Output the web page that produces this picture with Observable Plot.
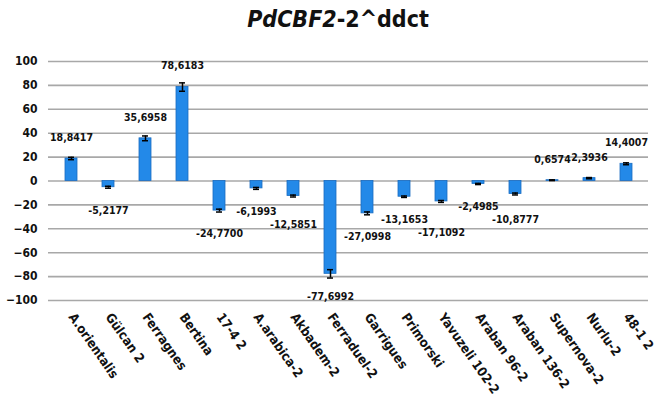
<!DOCTYPE html>
<html>
<head>
<meta charset="utf-8">
<script src="https://cdn.jsdelivr.net/npm/d3@7"></script>
<script src="https://cdn.jsdelivr.net/npm/@observablehq/plot@0.6"></script>
<style>
  body { margin: 0; background: #fff; font-family: "DejaVu Sans Condensed", "DejaVu Sans", sans-serif; }
  #title { height: 40px; line-height: 38px; text-align: center; font-size: 23px; font-weight: bold; color: #111; padding-left: 6px; }
  #chart svg { display: block; }
</style>
</head>
<body>
<div id="title"><i>PdCBF2</i>-2^ddct</div>
<div id="chart"></div>
<script>
const categories = ["A.orientalis", "Gülcan 2", "Ferragnes", "Bertina", "17-4 2", "A.arabica-2", "Akbadem-2", "Ferraduel-2", "Garrigues", "Primorski", "Yavuzeli 102-2", "Araban 96-2", "Araban 136-2", "Supernova-2", "Nurlu-2", "48-1 2"];
const values = [18.8417, -5.2177, 35.6958, 78.6183, -24.7700, -6.1993, -12.5851, -77.6992, -27.0998, -13.1653, -17.1092, -2.4985, -10.8777, 0.6574, 2.3936, 14.4007];
const errors = [1.0, 0.8, 2.0, 3.5, 1.2, 0.8, 0.8, 3.5, 1.2, 0.6, 0.8, 0.5, 0.8, 0.3, 0.5, 0.8];
const yTicks = [-100, -80, -60, -40, -20, 0, 20, 40, 60, 80, 100];

const W = 670, H = 372, MT = 21, MB = 112, ML = 48, MR = 22;
const yPx = d3.scaleLinear().domain([-100, 100]).range([H - MB, MT]);

const data = categories.map((c, i) => ({name: c, value: values[i], err: errors[i]}));
const fmt = v => v.toFixed(4).replace(".", ",");

// label placement: outside the bar end; negative labels pushed apart when neighbours collide
let prev = null;
data.forEach(d => {
  const end = yPx(d.value);
  let py = d.value >= 0 ? end - 21 : end + 23;
  if (d.value < 0 && prev && prev.value < 0 && Math.abs(py - prev.py) < 12) {
    py = Math.max(py, prev.py + 13);
  }
  d.py = py;
  d.labelY = yPx.invert(py);
  prev = d;
});

const font = "'DejaVu Sans Condensed', 'DejaVu Sans', sans-serif";

const chart = Plot.plot({
  width: W,
  height: H,
  marginTop: MT,
  marginBottom: MB,
  marginLeft: ML,
  marginRight: MR,
  style: {fontFamily: font, fontWeight: "bold", color: "#111"},
  x: {domain: categories, paddingInner: 0.68, paddingOuter: 0.34, label: null},
  y: {domain: [-100, 100], ticks: yTicks, label: null},
  marks: [
    Plot.ruleY(yTicks, {stroke: "#a8a8a8", strokeWidth: 1.6}),
    Plot.axisY({ticks: yTicks, tickSize: 0, tickPadding: 11, fontSize: 12, fontWeight: "bold", label: null}),
    Plot.axisX({tickSize: 0, tickRotate: 55, tickPadding: 14, fontSize: 13, fontWeight: "bold", label: null}),
    Plot.barY(data, {x: "name", y: "value", fill: "#2389e8", stroke: "#1a6cc0", strokeWidth: 0.8}),
    Plot.ruleX(data, {x: "name", y1: d => d.value - d.err, y2: d => d.value + d.err, stroke: "#000", strokeWidth: 1.5}),
    Plot.tickY(data, {x: "name", y: d => d.value - d.err, stroke: "#000", strokeWidth: 1.5, insetLeft: 3, insetRight: 3}),
    Plot.tickY(data, {x: "name", y: d => d.value + d.err, stroke: "#000", strokeWidth: 1.5, insetLeft: 3, insetRight: 3}),
    Plot.text(data, {x: "name", y: "labelY", text: d => fmt(d.value), fontSize: 10.5, fontWeight: "bold", fill: "#111"})
  ]
});
document.getElementById("chart").appendChild(chart);
</script>
</body>
</html>
